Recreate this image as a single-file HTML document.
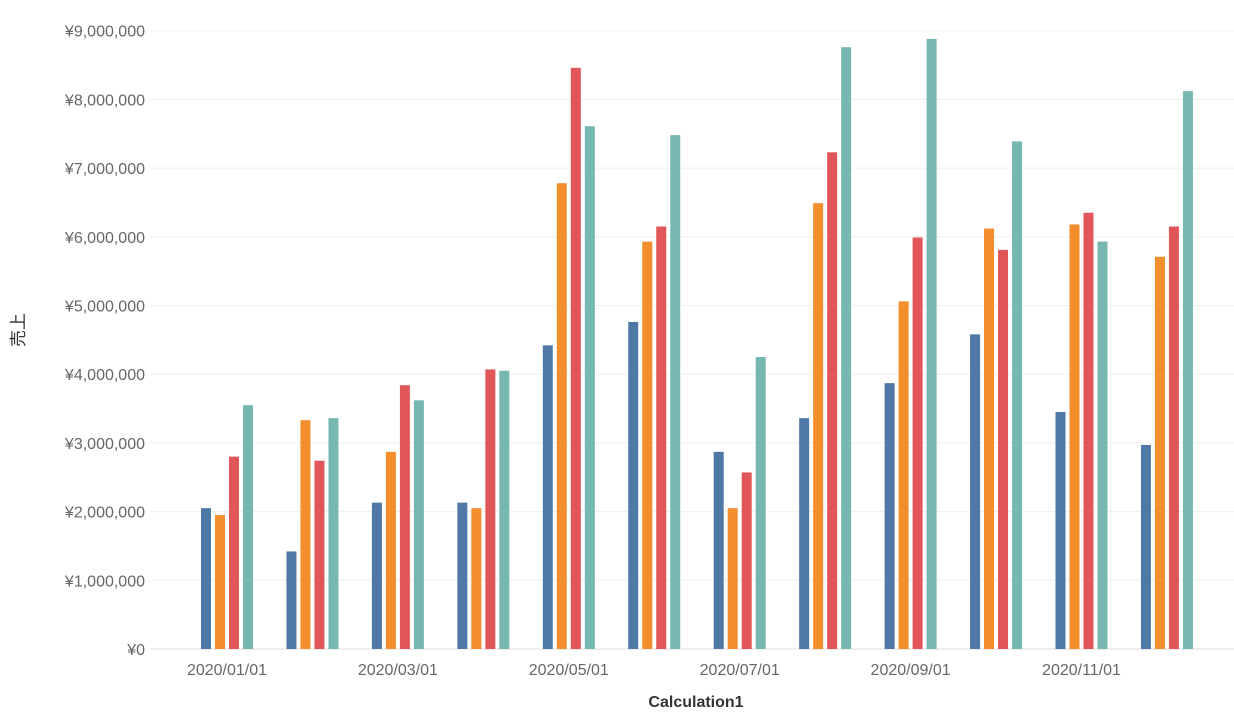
<!DOCTYPE html>
<html><head><meta charset="utf-8"><style>
body{margin:0;background:#fff;font-family:"Liberation Sans","Noto Sans CJK JP",sans-serif;}
svg text{font-family:"Liberation Sans","Noto Sans CJK JP",sans-serif;}
</style></head><body>
<svg id="chart" width="1234" height="720" xmlns="http://www.w3.org/2000/svg">
<g id="grid"></g>
<g id="yaxis"></g>
<g id="bars"></g>
<g id="xaxis"></g>
<text transform="translate(24,330) rotate(-90)" text-anchor="middle" font-size="17" fill="#333">売上</text>
<text x="696" y="707" text-anchor="middle" font-size="16" font-weight="bold" fill="#333">Calculation1</text>
</svg>
<script>
const months=["2020/01/01","2020/02/01","2020/03/01","2020/04/01","2020/05/01","2020/06/01","2020/07/01","2020/08/01","2020/09/01","2020/10/01","2020/11/01","2020/12/01"];
const seriesA=[2.05,1.42,2.13,2.13,4.42,4.76,2.87,3.36,3.87,4.58,3.45,2.97];
const seriesB=[1.95,3.33,2.87,2.05,6.78,5.93,2.05,6.49,5.06,6.12,6.18,5.71];
const seriesC=[2.80,2.74,3.84,4.07,8.46,6.15,2.57,7.23,5.99,5.81,6.35,6.15];
const seriesD=[3.55,3.36,3.62,4.05,7.61,7.48,4.25,8.76,8.88,7.39,5.93,8.12];
const yTicks=[0,1,2,3,4,5,6,7,8,9];
const xLabels=["2020/01/01","2020/03/01","2020/05/01","2020/07/01","2020/09/01","2020/11/01"];
const NS="http://www.w3.org/2000/svg";
const y0=649,pxPerM=68.7;
function y(v){return y0-v*pxPerM;}
const step=85.45,first=201;
function x(i){return first+i*step;}
function mk(tag,attrs,parent){const e=document.createElementNS(NS,tag);for(const k in attrs)e.setAttribute(k,attrs[k]);parent.appendChild(e);return e;}
const grid=document.getElementById('grid'),ya=document.getElementById('yaxis'),bars=document.getElementById('bars'),xa=document.getElementById('xaxis');
yTicks.forEach(t=>{
 const l=mk('line',{x1:150,x2:1234,y1:y(t),y2:y(t),stroke:t===0?'#ddd':'#efefef','stroke-width':1},grid);
 
 
 const tx=mk('text',{x:145,y:y(t)+6,'text-anchor':'end','font-size':16,fill:'#666'},ya);
 tx.textContent='¥'+(t===0?'0':(t*1000000).toLocaleString('en-US'));
 
 
});
const series=[seriesA,seriesB,seriesC,seriesD],colors=["#4e79a7","#f28e2b","#e15759","#76b7b2"];
series.forEach((s,si)=>s.forEach((v,i)=>{
 const r=mk('rect',{x:x(i)+si*14,y:y(v),width:10,height:y0-y(v),fill:colors[si]},bars);
 
 
}));
xLabels.forEach(lb=>{
 const i=months.indexOf(lb);
 const t=mk('text',{x:x(i)+26,y:675,'text-anchor':'middle','font-size':16,fill:'#666'},xa);
 t.textContent=lb;
 
 
});
</script>
</body></html>
